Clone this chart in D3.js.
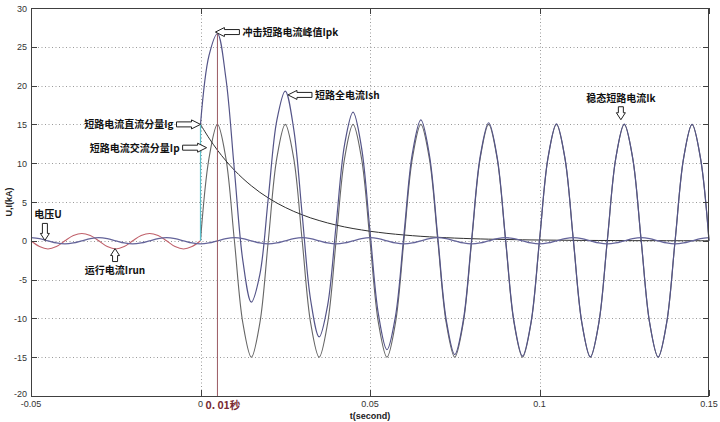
<!DOCTYPE html>
<html><head><meta charset="utf-8">
<script src="https://cdn.jsdelivr.net/npm/d3@7/dist/d3.min.js"></script>
<style>body{margin:0;background:#fff}svg{display:block}</style>
</head><body>
<svg id="c" width="720" height="422"></svg>
<script>
// ---------- data ----------
const timeAll = [-0.05,-0.0475,-0.045,-0.0425,-0.04,-0.0375,-0.035,-0.0325,-0.03,-0.0275,-0.025,-0.0225,-0.02,-0.0175,-0.015,-0.0125,-0.01,-0.0075,-0.005,-0.0025,
0,0.0025,0.005,0.0075,0.01,0.0125,0.015,0.0175,0.02,0.0225,0.025,0.0275,0.03,0.0325,0.035,0.0375,0.04,0.0425,0.045,0.0475,0.05,0.0525,0.055,0.0575,0.06,0.0625,0.065,0.0675,0.07,0.0725,0.075,0.0775,0.08,0.0825,0.085,0.0875,0.09,0.0925,0.095,0.0975,0.1,0.1025,0.105,0.1075,0.11,0.1125,0.115,0.1175,0.12,0.1225,0.125,0.1275,0.13,0.1325,0.135,0.1375,0.14,0.1425,0.145,0.1475,0.15];
// voltage U over the whole time range
const voltageU = [0.4,0.28,0,-0.28,-0.4,-0.28,0,0.28,0.4,0.28,0,-0.28,-0.4,-0.28,0,0.28,0.4,0.28,0,-0.28,
-0.4,-0.28,0,0.28,0.4,0.28,0,-0.28,-0.4,-0.28,0,0.28,0.4,0.28,0,-0.28,-0.4,-0.28,0,0.28,0.4,0.28,0,-0.28,
-0.4,-0.28,0,0.28,0.4,0.28,0,-0.28,-0.4,-0.28,0,0.28,0.4,0.28,0,-0.28,-0.4,-0.28,0,0.28,0.4,0.28,0,-0.28,
-0.4,-0.28,0,0.28,0.4,0.28,0,-0.28,-0.4,-0.28,0,0.28,0.4];
// running current Irun, t = -0.05 .. 0
const runCurrent = [0,-0.74,-1.05,-0.74,0,0.67,0.95,0.67,0,-0.74,-1.05,-0.74,0,0.67,0.95,0.67,0,-0.74,-1.05,-0.74,0];
// short-circuit series, t = 0 .. 0.15
const acComponent = [0,10.61,15,10.61,0,-10.61,-15,-10.61,0,10.61,15,10.61,0,-10.61,-15,-10.61,0,10.61,15,10.61,0,-10.61,-15,-10.61,
0,10.61,15,10.61,0,-10.61,-15,-10.61,0,10.61,15,10.61,0,-10.61,-15,-10.61,0,10.61,15,10.61,0,-10.61,-15,-10.61,
0,10.61,15,10.61,0,-10.61,-15,-10.61,0,10.61,15,10.61,0];
const dcComponent = [15,13.24,11.68,10.31,9.10,8.03,7.09,6.25,5.52,4.87,4.30,3.79,3.35,2.95,2.61,2.30,2.03,1.79,1.58,1.40,
1.23,1.09,0.96,0.85,0.75,0.66,0.58,0.51,0.45,0.40,0.35,0.31,0.27,0.24,0.21,0.19,0.17,0.15,0.13,0.11,
0.10,0.09,0.08,0.07,0.06,0.05,0.05,0.04,0.04,0.03,0.03,0.02,0.02,0.02,0.02,0.01,0.01,0.01,0.01,0.01,0.01];
const totalCurrent = [15,23.85,26.68,20.92,9.10,-2.58,-7.91,-4.36,5.52,15.48,19.30,14.40,3.35,-7.66,-12.39,-8.31,2.03,12.40,16.58,12.01,
1.23,-9.52,-14.04,-9.76,0.75,11.27,15.58,11.12,0.45,-10.21,-14.65,-10.30,0.27,10.85,15.21,10.80,0.17,-10.46,-14.87,-10.50,
0.10,10.70,15.08,10.68,0.06,-10.56,-14.95,-10.57,0.04,10.64,15.03,10.63,0.02,-10.59,-14.98,-10.59,0.01,10.62,15.01,10.62,0.01];
const xTicks = [-0.05,0,0.05,0.1,0.15];
const xTickLabels = ["-0.05","0","0.05","0.1","0.15"];
const yTicks = [-20,-15,-10,-5,0,5,10,15,20,25,30];
const markerTime = 0.005;
const markerLabel = "0. 01秒";
// annotations: label, arrow tip (t, value), arrow direction
const annoLabels = ["冲击短路电流峰值Ipk","短路全电流Ish","短路电流直流分量Ig","短路电流交流分量Ip","稳态短路电流Ik","电压U","运行电流Irun"];
const annoTipT   = [0.0044, 0.0258, 0, 0.0018, 0.124, -0.0459, -0.0252];
const annoTipV   = [26.9, 18.8, 15, 12.0, 15.6, 0.05, -1.0];
const annoDir    = ["left","left","right","right","down","down","up"];

// ---------- layout ----------
const W = 720, H = 422;
const m = {l:31, r:11, t:8, b:26};
const svg = d3.select("#c");
const x = d3.scaleLinear().domain([-0.05,0.15]).range([m.l, W-m.r]);
const y = d3.scaleLinear().domain([-20,30]).range([H-m.b, m.t]);
const x0 = m.l, x1 = W-m.r, y0 = H-m.b, y1 = m.t;

// grid
const grid = svg.append("g").attr("stroke","#9a9a9a").attr("stroke-width",1).attr("stroke-dasharray","1,2.5");
grid.selectAll(".gx").data(xTicks.slice(1,-1)).join("line")
  .attr("x1",d=>Math.round(x(d))+0.5).attr("x2",d=>Math.round(x(d))+0.5).attr("y1",y1).attr("y2",y0);
grid.selectAll(".gy").data(yTicks.slice(1,-1)).join("line")
  .attr("y1",d=>Math.round(y(d))+0.5).attr("y2",d=>Math.round(y(d))+0.5).attr("x1",x0).attr("x2",x1);

const pre = timeAll.slice(0, runCurrent.length);
const post = timeAll.slice(timeAll.length - totalCurrent.length);
const mk = (ts, vs) => ts.map((t,i)=>[t, vs[i]]);
const line = d3.line().x(d=>x(d[0])).y(d=>y(d[1])).curve(d3.curveCatmullRom.alpha(0.5));
const plot = svg.append("g").attr("fill","none");

plot.append("path").attr("d", line(mk(pre, runCurrent))).attr("stroke","#c0606a").attr("stroke-width",1.1);
plot.append("path").attr("d", line(mk(post, acComponent))).attr("stroke","#666").attr("stroke-width",1.1);
plot.append("path").attr("d", line(mk(post, dcComponent))).attr("stroke","#303030").attr("stroke-width",1);
plot.append("path").attr("d", line(mk(post, totalCurrent))).attr("stroke","#545488").attr("stroke-width",1.2);
plot.append("path").attr("d", line(mk(timeAll, voltageU))).attr("stroke","#64649a").attr("stroke-width",1.3);
// DC step at t=0
plot.append("line").attr("x1",x(0)).attr("x2",x(0)).attr("y1",y(0)).attr("y2",y(dcComponent[0]))
  .attr("stroke","#5cc0cc").attr("stroke-width",1.2);
// marker line
plot.append("line").attr("x1",x(markerTime)).attr("x2",x(markerTime)).attr("y1",y(-20)).attr("y2",y(d3.max(totalCurrent)))
  .attr("stroke","#9a5a62").attr("stroke-width",1);

// axes box
const ax = svg.append("g").attr("stroke","#404040").attr("fill","none");
ax.append("rect").attr("x",x0+0.5).attr("y",y1+0.5).attr("width",x1-x0-1).attr("height",y0-y1).attr("stroke-width",1);
// inward ticks on all four sides
xTicks.forEach(t=>{
  const px = Math.round(x(t))+0.5;
  ax.append("line").attr("x1",px).attr("x2",px).attr("y1",y0).attr("y2",y0-6);
  ax.append("line").attr("x1",px).attr("x2",px).attr("y1",y1).attr("y2",y1+6);
});
yTicks.forEach(v=>{
  const py = Math.round(y(v))+0.5;
  ax.append("line").attr("x1",x0).attr("x2",x0+6).attr("y1",py).attr("y2",py);
  ax.append("line").attr("x1",x1).attr("x2",x1-6).attr("y1",py).attr("y2",py);
});

const tickFont = "Liberation Sans, Arial, sans-serif";
svg.append("g").selectAll("text").data(xTicks).join("text")
  .attr("x",d=>x(d)).attr("y",y0+11).attr("text-anchor","middle")
  .attr("font-family",tickFont).attr("font-size",9).attr("fill","#333")
  .text((d,i)=>xTickLabels[i]);
svg.append("g").selectAll("text").data(yTicks).join("text")
  .attr("x",x0-4).attr("y",d=>y(d)+(d===-20?1:3.5)).attr("text-anchor","end")
  .attr("font-family",tickFont).attr("font-size",9).attr("fill","#333")
  .text(d=>d);
svg.append("text").attr("x",(x0+x1)/2).attr("y",H-3).attr("text-anchor","middle")
  .attr("font-family",tickFont).attr("font-size",9).attr("font-weight","bold").attr("fill","#222").text("t(second)");
svg.append("text").attr("transform",`translate(12,${(y0+y1)/2}) rotate(-90)`).attr("text-anchor","middle")
  .attr("font-family",tickFont).attr("font-size",9).attr("font-weight","bold").attr("fill","#222").text("U,I(kA)");

const cjk = "'Noto Sans CJK SC', sans-serif";
svg.append("text").attr("x",x(markerTime)-12).attr("y",y0+13)
  .attr("font-family",cjk).attr("font-size",10.5).attr("font-weight","bold").attr("fill","#7a2a32").text(markerLabel);

// ---------- annotation arrows ----------
function arrowPath(L, h, hw, sw){
  // pointing left, tip at origin
  return `M0,0 L${h},${-hw} L${h},${-sw} L${L},${-sw} L${L},${sw} L${h},${sw} L${h},${hw} Z`;
}
const rot = {left:0, right:180, up:90, down:-90};
const ag = svg.append("g");
annoLabels.forEach((lab,i)=>{
  const tx = x(annoTipT[i]), ty = y(annoTipV[i]);
  const dir = annoDir[i];
  const horiz = dir==="left"||dir==="right";
  const L = horiz ? 24 : (i===5 ? 17 : 13);
  const h = horiz ? 9 : 7;
  const hw = 4.5;
  const sw = 2.5;
  ag.append("path").attr("d", arrowPath(L,h,hw,sw))
    .attr("transform",`translate(${tx},${ty}) rotate(${rot[dir]})`)
    .attr("fill","#fff").attr("stroke","#222").attr("stroke-width",1);
  const t = ag.append("text").attr("font-family",cjk).attr("font-size",10).attr("font-weight","bold").attr("fill","#111").text(lab);
  if(dir==="left") t.attr("x",tx+L+3).attr("y",ty+4);
  else if(dir==="right") t.attr("x",tx-L-3).attr("y",ty+4).attr("text-anchor","end");
  else if(dir==="down") t.attr("x",tx+(i===5?3:0)).attr("y",ty-L-5).attr("text-anchor","middle");
  else t.attr("x",tx).attr("y",ty+L+12).attr("text-anchor","middle");
});
</script>
</body></html>
